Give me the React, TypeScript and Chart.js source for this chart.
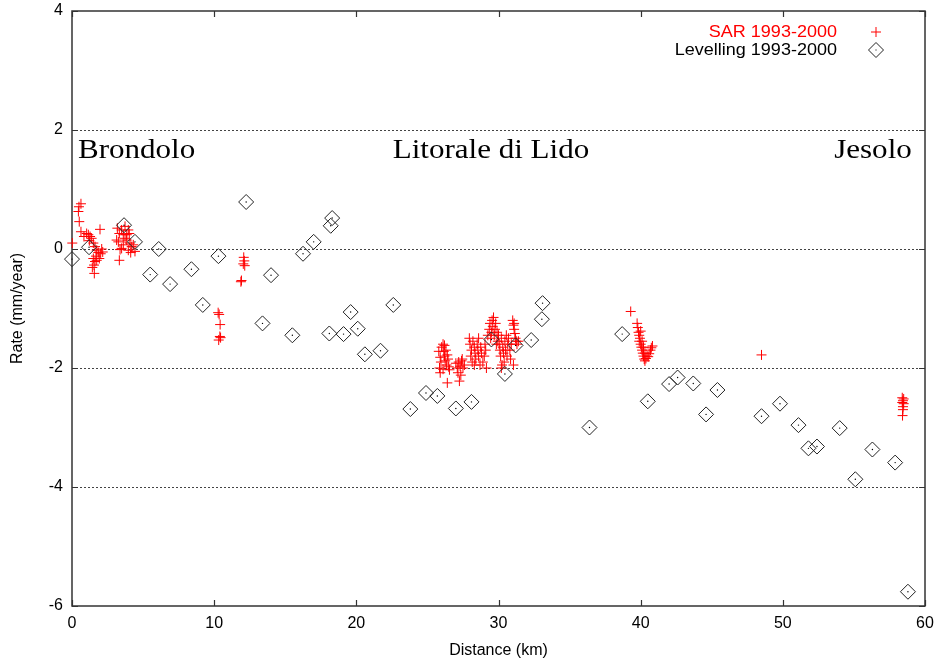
import React, { useEffect, useRef } from "react";
import { Chart, registerables } from "chart.js";

Chart.register(...registerables);

// ---- data ----
const levellingDistance = [
  0.0, 1.2, 3.66, 4.43, 5.5, 6.1, 6.9, 8.4, 9.2, 10.3, 12.25, 13.4, 14.0, 15.5,
  16.25, 17.0, 18.1, 18.2, 18.3, 19.1, 19.6, 20.1, 20.6, 21.7, 22.6, 23.8, 24.9,
  25.7, 27.0, 28.1, 29.5, 30.45, 31.2, 32.3, 33.05, 33.1, 36.4, 38.7, 40.5, 42.0,
  42.6, 43.7, 44.6, 45.4, 48.5, 49.8, 51.1, 51.8, 52.4, 54.0, 55.1, 56.3, 57.9, 58.8,
];
const levellingRate = [
  -0.17, 0.03, 0.4, 0.12, -0.43, 0.0, -0.59, -0.34, -0.94, -0.12, 0.79, -1.25, -0.44, -1.45,
  -0.08, 0.12, -1.42, 0.39, 0.52, -1.43, -1.06, -1.34, -1.77, -1.71, -0.94, -2.69, -2.42,
  -2.47, -2.68, -2.57, -1.52, -2.1, -1.62, -1.53, -1.18, -0.91, -3.0, -1.43, -2.56, -2.27,
  -2.16, -2.26, -2.78, -2.37, -2.81, -2.6, -2.96, -3.35, -3.32, -3.01, -3.87, -3.37, -3.59, -5.76,
];

const sarDistance = [
  // Brondolo
  0.02, 0.45, 0.49, 0.51, 0.63, 0.63, 0.84,
  1.03, 1.15, 1.27, 1.38, 1.22, 1.5, 1.62, 1.74, 1.85, 2.02, 1.69, 1.5, 1.62, 1.74, 1.55, 1.43, 1.57, 1.97, 2.09, 2.16, 1.92,
  3.19, 3.33, 3.26, 3.38, 3.33, 3.49, 3.61, 3.73, 3.85, 3.96, 4.03, 4.08, 4.2, 3.96, 4.31, 3.61, 3.49, 3.73, 3.85, 4.13, 4.43, 3.14,
  10.28, 10.35, 10.42, 10.4, 10.32, 10.45,
  12.08, 12.12, 12.15, 12.05, 11.88, 11.92,
  // Litorale di Lido
  25.8, 25.9, 25.95, 25.85, 26.0, 26.1, 26.15, 26.2, 26.25, 26.3, 26.35, 26.4, 26.1, 26.5, 26.2, 26.45, 26.55, 26.4, 25.9,
  27.0, 27.1, 27.15, 27.2, 27.3, 27.35, 27.25, 27.4, 27.5, 27.45, 27.6,
  27.95, 28.0, 28.1, 28.05, 28.15, 28.2, 28.3, 28.35, 28.4, 28.5, 28.55, 28.6, 28.7, 28.75, 28.8, 28.9, 29.0, 29.05, 29.1, 28.3, 28.6, 29.15,
  29.25, 29.35, 29.4, 29.45, 29.5, 29.55, 29.6, 29.7, 29.75, 29.8, 29.9, 29.95, 30.0, 29.65, 29.85,
  30.05, 30.1, 30.15, 30.2, 30.3, 30.35, 30.4, 30.45, 30.5, 30.6, 30.65, 30.7, 30.8, 30.85, 30.9, 30.25, 30.55, 30.2,
  31.0, 31.05, 31.1, 31.15, 31.2, 31.1, 31.25, 31.3, 31.05, 31.4,
  // around 40 km
  39.3, 39.75, 39.8, 39.85, 39.9, 39.95, 39.9, 40.0, 40.05, 40.1, 40.15, 40.2, 40.25, 40.3, 40.37, 40.45, 40.53, 40.6, 40.69, 40.75, 40.83, 40.0, 40.1, 40.2, 40.3,
  48.5,
  // Jesolo
  58.4, 58.45, 58.5, 58.45, 58.4, 58.5, 58.45, 58.42,
];
const sarRate = [
  0.1, 0.63, 0.71, 0.46, 0.76, 0.29, 0.21,
  0.26, 0.24, 0.21, 0.18, 0.14, 0.1, 0.04, -0.02, -0.06, -0.08, -0.12, -0.16, -0.21, -0.19, -0.27, -0.31, -0.41, 0.33, 0.0, -0.05, -0.16,
  0.35, 0.26, 0.12, -0.01, -0.19, 0.32, 0.24, 0.18, 0.15, 0.32, 0.26, 0.1, 0.04, -0.02, 0.07, 0.07, 0.01, 0.38, 0.24, -0.06, -0.04, 0.15,
  -1.07, -1.1, -1.27, -1.47, -1.53, -1.49,
  -0.14, -0.2, -0.28, -0.25, -0.55, -0.53,
  -1.72, -1.82, -1.9, -2.0, -1.65, -1.6, -1.72, -1.8, -1.88, -1.7, -1.95, -1.78, -2.02, -1.98, -1.62, -1.85, -2.03, -2.25, -2.08,
  -1.92, -2.0, -2.08, -1.9, -1.97, -2.12, -2.22, -1.88, -2.0, -1.85, -1.95,
  -1.5, -1.6, -1.7, -1.8, -1.9, -1.55, -1.65, -1.75, -1.85, -1.6, -1.7, -1.8, -1.95, -1.65, -1.75, -1.9, -1.8, -1.6, -1.7, -1.95, -1.5, -2.0,
  -1.45, -1.35, -1.25, -1.5, -1.4, -1.2, -1.3, -1.45, -1.35, -1.25, -1.4, -1.55, -1.45, -1.15, -1.6,
  -1.6, -1.7, -1.8, -1.5, -1.65, -1.75, -1.9, -1.55, -1.7, -1.8, -1.6, -1.5, -1.7, -1.85, -1.6, -1.95, -1.45, -2.0,
  -1.2, -1.28, -1.35, -1.42, -1.5, -1.25, -1.55, -1.6, -1.95, -1.55,
  -1.05, -1.25, -1.32, -1.4, -1.45, -1.5, -1.55, -1.6, -1.65, -1.7, -1.75, -1.8, -1.85, -1.88, -1.84, -1.8, -1.81, -1.76, -1.7, -1.66, -1.63, -1.38, -1.55, -1.65, -1.75,
  -1.78,
  -2.5, -2.55, -2.6, -2.65, -2.58, -2.52, -2.7, -2.8,
];

const xTicks = [0, 10, 20, 30, 40, 50, 60];
const yTicks = [-6, -4, -2, 0, 2, 4];
const gridRates = [-4, -2, 0, 2];

const placeNames = ["Brondolo", "Litorale di Lido", "Jesolo"];
const placeDistance = [0.42, 29.47, 59.07];
const placeAlign = ["left", "center", "right"];
const placeRate = 1.53;

const legendLabels = ["SAR 1993-2000", "Levelling 1993-2000"];
const xTitle = "Distance (km)";
const yTitle = "Rate (mm/year)";

const FRAME = "#333";

const decorPlugin = {
  id: "decor",
  beforeDatasetsDraw(chart: any) {
    const { ctx, chartArea } = chart;
    const xs = chart.scales.x;
    const ys = chart.scales.y;
    const { left, right, top, bottom } = chartArea;
    ctx.save();
    // dotted grid
    ctx.strokeStyle = "#444";
    ctx.lineWidth = 1;
    ctx.setLineDash([2, 2]);
    gridRates.forEach((v) => {
      const y = Math.round(ys.getPixelForValue(v)) + 0.5;
      ctx.beginPath();
      ctx.moveTo(left, y);
      ctx.lineTo(right, y);
      ctx.stroke();
    });
    ctx.setLineDash([]);
    // frame
    ctx.strokeStyle = FRAME;
    ctx.lineWidth = 1.5;
    ctx.strokeRect(left, top, right - left, bottom - top);
    // inward ticks
    ctx.lineWidth = 1.2;
    const tl = 6;
    xTicks.forEach((v) => {
      const x = Math.round(xs.getPixelForValue(v)) + 0.5;
      ctx.beginPath();
      ctx.moveTo(x, bottom);
      ctx.lineTo(x, bottom - tl);
      ctx.moveTo(x, top);
      ctx.lineTo(x, top + tl);
      ctx.stroke();
    });
    yTicks.forEach((v) => {
      const y = Math.round(ys.getPixelForValue(v)) + 0.5;
      ctx.beginPath();
      ctx.moveTo(left, y);
      ctx.lineTo(left + tl, y);
      ctx.moveTo(right, y);
      ctx.lineTo(right - tl, y);
      ctx.stroke();
    });
    ctx.restore();
  },
  afterDatasetsDraw(chart: any) {
    const { ctx, chartArea } = chart;
    const xs = chart.scales.x;
    const ys = chart.scales.y;
    ctx.save();
    // place names
    ctx.fillStyle = "#000";
    ctx.font = "27px 'Liberation Serif', 'DejaVu Serif', serif";
    ctx.textBaseline = "alphabetic";
    placeNames.forEach((name, i) => {
      const px = xs.getPixelForValue(placeDistance[i]);
      const py = ys.getPixelForValue(placeRate);
      ctx.save();
      ctx.translate(px, py);
      ctx.scale(1.15, 1);
      ctx.textAlign = placeAlign[i] as CanvasTextAlign;
      ctx.fillText(name, 0, 0);
      ctx.restore();
    });
    // legend
    const textRight = chartArea.right - 88;
    const markX = chartArea.right - 49;
    const rows = [chartArea.top + 21, chartArea.top + 39];
    ctx.font = "17px 'Liberation Sans', Arial, sans-serif";
    ctx.textBaseline = "middle";
    legendLabels.forEach((lab, i) => {
      ctx.save();
      ctx.translate(textRight, rows[i]);
      ctx.scale(1.06, 1);
      ctx.textAlign = "right";
      ctx.fillStyle = i === 0 ? "#ff0000" : "#000";
      ctx.fillText(lab, 0, 0);
      ctx.restore();
    });
    // legend markers
    ctx.lineWidth = 1;
    ctx.strokeStyle = "#ff0000";
    ctx.beginPath();
    ctx.moveTo(markX - 5, rows[0]);
    ctx.lineTo(markX + 5, rows[0]);
    ctx.moveTo(markX, rows[0] - 5);
    ctx.lineTo(markX, rows[0] + 5);
    ctx.stroke();
    ctx.strokeStyle = "#222";
    ctx.beginPath();
    const r = 7.5;
    ctx.moveTo(markX - r, rows[1]);
    ctx.lineTo(markX, rows[1] - r);
    ctx.lineTo(markX + r, rows[1]);
    ctx.lineTo(markX, rows[1] + r);
    ctx.closePath();
    ctx.stroke();
    ctx.fillStyle = "#000";
    ctx.fillRect(markX - 0.5, rows[1] - 0.5, 1, 1);
    ctx.restore();
  },
};

export default function App() {
  const ref = useRef<HTMLCanvasElement | null>(null);

  useEffect(() => {
    if (!ref.current) return;
    const sarPoints = sarDistance.map((x, i) => ({ x, y: sarRate[i] }));
    const levPoints = levellingDistance.map((x, i) => ({ x, y: levellingRate[i] }));
    const tickFont = { family: "'Liberation Sans', Arial, sans-serif", size: 16 };
    const chart = new Chart(ref.current, {
      type: "scatter",
      data: {
        datasets: [
          {
            label: legendLabels[0],
            data: sarPoints,
            pointStyle: "cross",
            pointRadius: 5,
            borderColor: "#ff0000",
            backgroundColor: "#ff0000",
            borderWidth: 1,
            clip: false,
            order: 2,
          } as any,
          {
            label: legendLabels[1],
            data: levPoints,
            pointStyle: "rectRot",
            pointRadius: 7.5,
            borderColor: "#222",
            backgroundColor: "rgba(0,0,0,0)",
            borderWidth: 1,
            clip: false,
            order: 1,
          } as any,
          {
            label: "centre",
            data: levPoints,
            pointStyle: "circle",
            pointRadius: 0.7,
            borderWidth: 0,
            backgroundColor: "#000",
            clip: false,
            order: 0,
          } as any,
        ],
      },
      options: {
        animation: false,
        responsive: false,
        devicePixelRatio: 1,
        layout: { padding: { top: 11, right: 12, left: 0, bottom: 0 } },
        plugins: { legend: { display: false }, tooltip: { enabled: false } },
        events: [],
        scales: {
          x: {
            type: "linear",
            min: 0,
            max: 60,
            grid: { display: false, drawTicks: false },
            border: { display: false },
            ticks: { stepSize: 10, color: "#000", font: tickFont, padding: 8, maxRotation: 0 },
            title: {
              display: true,
              text: xTitle,
              color: "#000",
              font: tickFont,
              padding: { top: 0, bottom: 6 },
            },
            afterFit: (s: any) => {
              s.height = 60;
              s.paddingLeft = 0;
              s.paddingRight = 0;
            },
          },
          y: {
            type: "linear",
            min: -6,
            max: 4,
            grid: { display: false, drawTicks: false },
            border: { display: false },
            ticks: { stepSize: 2, color: "#000", font: tickFont, padding: 9 },
            title: {
              display: true,
              text: yTitle,
              color: "#000",
              font: tickFont,
              padding: { top: 8, bottom: 0 },
            },
            afterFit: (s: any) => {
              s.width = 72;
              s.paddingTop = 0;
              s.paddingBottom = 0;
            },
          },
        },
      } as any,
      plugins: [decorPlugin],
    });
    return () => chart.destroy();
  }, []);

  return (
    <div
      style={{
        position: "absolute",
        left: 0,
        top: 0,
        width: 937,
        height: 666,
        background: "#fff",
      }}
    >
      <canvas ref={ref} width={937} height={666} style={{ width: 937, height: 666, display: "block" }} />
    </div>
  );
}
